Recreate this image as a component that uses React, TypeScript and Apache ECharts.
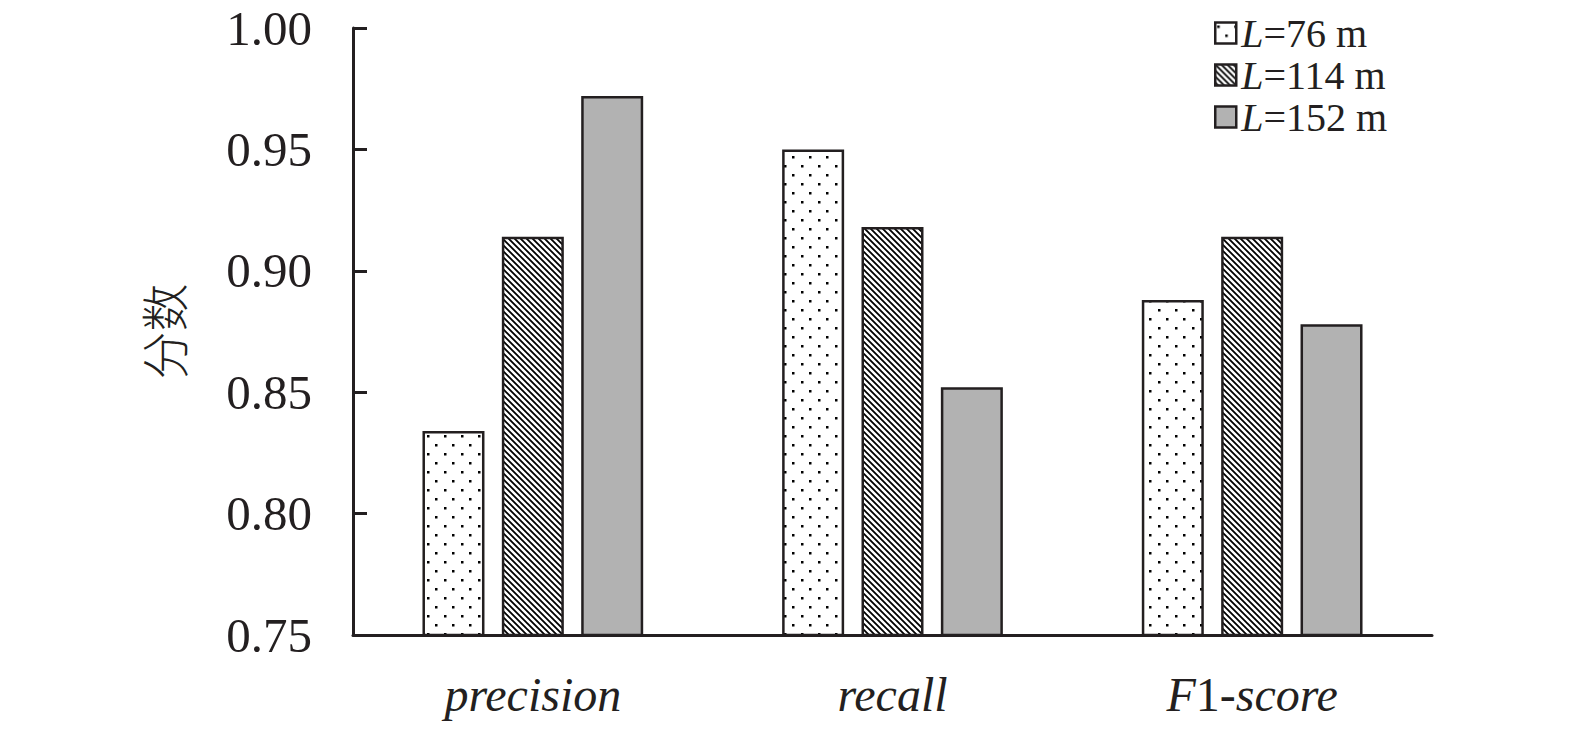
import React, { useEffect, useRef } from "react";
import * as echarts from "echarts";

const categories = ["precision", "recall", "F1-score"];
const seriesNames = ["L=76 m", "L=114 m", "L=152 m"];
const values76 = [0.834, 0.95, 0.888];
const values114 = [0.914, 0.918, 0.914];
const values152 = [0.972, 0.852, 0.878];
const yTicks = [0.75, 0.8, 0.85, 0.9, 0.95, 1.0];

const INK = "#231f20";
const FONT = "Liberation Serif";
const PAGE_W = 1575;
const PAGE_H = 731;

function makeDotTile() {
  const w = 17;
  const h = 18;
  const c = document.createElement("canvas");
  c.width = w;
  c.height = h;
  const ctx = c.getContext("2d")!;
  ctx.fillStyle = "#ffffff";
  ctx.fillRect(0, 0, w, h);
  ctx.fillStyle = "#000000";
  ctx.fillRect(2, 3, 2.5, 2.5);
  ctx.fillRect(10, 12, 2.5, 2.5);
  return c;
}

function makeHatchTile() {
  const w = 24;
  const h = 24;
  const n = 4;
  const c = document.createElement("canvas");
  c.width = w;
  c.height = h;
  const ctx = c.getContext("2d")!;
  ctx.fillStyle = "#ffffff";
  ctx.fillRect(0, 0, w, h);
  ctx.strokeStyle = "#000000";
  ctx.lineWidth = 1.8;
  ctx.beginPath();
  for (let k = -n; k <= n; k++) {
    const x0 = (k * w) / n;
    ctx.moveTo(x0 - w / n, -h / n);
    ctx.lineTo(x0 + w + w / n, h + h / n);
  }
  ctx.stroke();
  return c;
}

export default function App() {
  const ref = useRef<HTMLDivElement>(null);

  useEffect(() => {
    if (!ref.current) return;
    const chart = echarts.init(ref.current, undefined, { renderer: "svg" });
    const dot = makeDotTile();
    const hatch = makeHatchTile();
    const dotPattern: any = { image: dot, repeat: "repeat", imageWidth: 17, imageHeight: 18 };
    const hatchPattern: any = { image: hatch, repeat: "repeat", imageWidth: 24, imageHeight: 24 };
    const fills: any[] = [dotPattern, hatchPattern, "#b2b2b2"];
    const data = [values76, values114, values152];

    const legendRich = {
      i: { fontFamily: FONT, fontSize: 40, fontStyle: "italic", color: INK },
      n: { fontFamily: FONT, fontSize: 40, color: INK },
    };

    chart.setOption({
      animation: false,
      backgroundColor: "#ffffff",
      grid: { left: 353, right: 143, top: 28, bottom: 96, containLabel: false },
      legend: {
        orient: "vertical",
        left: 1214,
        top: 13,
        padding: 0,
        align: "left",
        icon: "rect",
        itemWidth: 21,
        itemHeight: 21,
        itemGap: 2,
        selectedMode: false,
        data: seriesNames,
        formatter: (name: string) => `{i|L}{n|${name.slice(1)}}`,
        textStyle: { fontFamily: FONT, fontSize: 40, color: INK, rich: legendRich },
        itemStyle: { borderColor: INK, borderWidth: 2.5 },
      },
      xAxis: {
        type: "category",
        data: categories,
        axisLine: { lineStyle: { color: INK, width: 3 } },
        axisTick: { show: false },
        axisLabel: {
          margin: 35,
          formatter: (v: string) => (v === "F1-score" ? "{i|F}{n|1}{i|-score}" : `{i|${v}}`),
          rich: {
            i: { fontFamily: FONT, fontSize: 48, fontStyle: "italic", color: INK },
            n: { fontFamily: FONT, fontSize: 48, color: INK },
          },
        },
      },
      yAxis: {
        type: "value",
        min: yTicks[0],
        max: yTicks[yTicks.length - 1],
        interval: 0.05,
        name: "分数",
        nameLocation: "middle",
        nameGap: 167,
        nameTextStyle: { fontFamily: "Noto Sans CJK SC", fontSize: 48, color: INK, fontWeight: 300 },
        axisLine: { show: true, lineStyle: { color: INK, width: 3 } },
        axisTick: { show: true, inside: true, length: 14, lineStyle: { color: INK, width: 3 } },
        splitLine: { show: false },
        axisLabel: {
          margin: 41,
          fontFamily: FONT,
          fontSize: 49,
          color: INK,
          formatter: (v: number) => v.toFixed(2),
        },
      },
      series: seriesNames.map((name, idx) => ({
        name,
        type: "bar",
        data: data[idx],
        barWidth: 62,
        barGap: "28%",
        itemStyle: { color: fills[idx], borderColor: INK, borderWidth: 2.5 },
      })),
    });
    return () => chart.dispose();
  }, []);

  return (
    <div style={{ position: "absolute", left: 0, top: 0, width: PAGE_W, height: PAGE_H, overflow: "hidden", background: "#fff" }}>
      <div ref={ref} style={{ width: PAGE_W, height: PAGE_H }} />
    </div>
  );
}
